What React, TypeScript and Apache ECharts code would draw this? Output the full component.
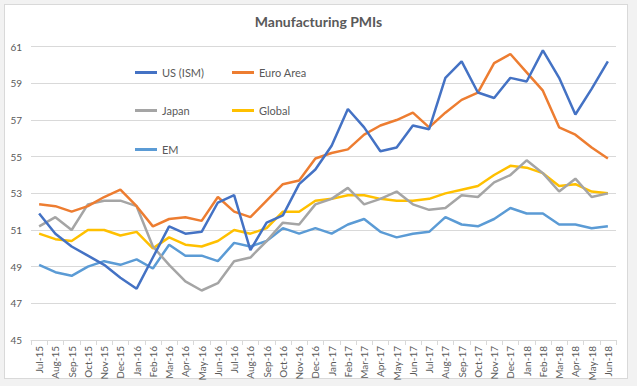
import React, { useEffect, useRef } from "react";
import * as echarts from "echarts";

const categories = [
  "Jul-15", "Aug-15", "Sep-15", "Oct-15", "Nov-15", "Dec-15",
  "Jan-16", "Feb-16", "Mar-16", "Apr-16", "May-16", "Jun-16",
  "Jul-16", "Aug-16", "Sep-16", "Oct-16", "Nov-16", "Dec-16",
  "Jan-17", "Feb-17", "Mar-17", "Apr-17", "May-17", "Jun-17",
  "Jul-17", "Aug-17", "Sep-17", "Oct-17", "Nov-17", "Dec-17",
  "Jan-18", "Feb-18", "Mar-18", "Apr-18", "May-18", "Jun-18",
];

const usIsm = [
  51.9, 50.8, 50.1, 49.6, 49.1, 48.4,
  47.8, 49.5, 51.2, 50.8, 50.9, 52.5,
  52.9, 49.9, 51.4, 51.8, 53.5, 54.3,
  55.6, 57.6, 56.6, 55.3, 55.5, 56.7,
  56.5, 59.3, 60.2, 58.5, 58.2, 59.3,
  59.1, 60.8, 59.3, 57.3, 58.7, 60.2,
];

const euroArea = [
  52.4, 52.3, 52.0, 52.3, 52.8, 53.2,
  52.3, 51.2, 51.6, 51.7, 51.5, 52.8,
  52.0, 51.7, 52.6, 53.5, 53.7, 54.9,
  55.2, 55.4, 56.2, 56.7, 57.0, 57.4,
  56.6, 57.4, 58.1, 58.5, 60.1, 60.6,
  59.6, 58.6, 56.6, 56.2, 55.5, 54.9,
];

const japan = [
  51.2, 51.7, 51.0, 52.4, 52.6, 52.6,
  52.3, 50.1, 49.1, 48.2, 47.7, 48.1,
  49.3, 49.5, 50.4, 51.4, 51.3, 52.4,
  52.7, 53.3, 52.4, 52.7, 53.1, 52.4,
  52.1, 52.2, 52.9, 52.8, 53.6, 54.0,
  54.8, 54.1, 53.1, 53.8, 52.8, 53.0,
];

const globalPmi = [
  50.8, 50.5, 50.4, 51.0, 51.0, 50.7,
  50.9, 50.0, 50.6, 50.2, 50.1, 50.4,
  51.0, 50.8, 51.1, 52.0, 52.0, 52.6,
  52.7, 52.9, 52.9, 52.7, 52.6, 52.6,
  52.7, 53.0, 53.2, 53.4, 54.0, 54.5,
  54.4, 54.1, 53.4, 53.5, 53.1, 53.0,
];

const em = [
  49.1, 48.7, 48.5, 49.0, 49.3, 49.1,
  49.4, 48.9, 50.2, 49.6, 49.6, 49.3,
  50.3, 50.1, 50.4, 51.1, 50.8, 51.1,
  50.8, 51.3, 51.6, 50.9, 50.6, 50.8,
  50.9, 51.7, 51.3, 51.2, 51.6, 52.2,
  51.9, 51.9, 51.3, 51.3, 51.1, 51.2,
];

const seriesNames = ["US (ISM)", "Euro Area", "Japan", "Global", "EM"];
const seriesColors = ["#4472C4", "#ED7D31", "#A5A5A5", "#FFC000", "#5B9BD5"];
const seriesData = [usIsm, euroArea, japan, globalPmi, em];

const yMin = 45;
const yMax = 61;
const yInterval = 2;

const legendPos = [
  { left: 135, top: 67 },
  { left: 232, top: 67 },
  { left: 135, top: 105 },
  { left: 232, top: 105 },
  { left: 135, top: 144 },
];

const FONT = "Lato, 'Open Sans', 'Liberation Sans', sans-serif";

export default function App() {
  const ref = useRef<HTMLDivElement>(null);

  useEffect(() => {
    if (!ref.current) return;
    const chart = echarts.init(ref.current, undefined, { renderer: "svg" });
    chart.setOption({
      animation: false,
      textStyle: { fontFamily: FONT },
      title: {
        text: "Manufacturing PMIs",
        left: "center",
        top: 14,
        padding: 0,
        textStyle: {
          fontFamily: FONT,
          fontSize: 14,
          fontWeight: "bold",
          color: "#595959",
        },
      },
      legend: seriesNames.map((name, i) => ({
        data: [name],
        left: legendPos[i].left,
        top: legendPos[i].top,
        padding: 0,
        icon: "rect",
        itemWidth: 22,
        itemHeight: 3,
        selectedMode: false,
        textStyle: { fontFamily: FONT, fontSize: 11, color: "#595959" },
      })),
      grid: { left: 31, right: 21, top: 46.7, bottom: 46 },
      xAxis: {
        type: "category",
        data: categories,
        boundaryGap: true,
        axisLine: { lineStyle: { color: "#D9D9D9", width: 1 } },
        axisTick: {
          show: true,
          length: 5,
          interval: 0,
          lineStyle: { color: "#D9D9D9" },
        },
        axisLabel: {
          interval: 0,
          rotate: 90,
          margin: 6,
          fontFamily: FONT,
          fontSize: 10,
          color: "#595959",
        },
        splitLine: { show: false },
      },
      yAxis: {
        type: "value",
        min: yMin,
        max: yMax,
        interval: yInterval,
        axisLine: { show: false },
        axisTick: { show: false },
        axisLabel: {
          margin: 9,
          fontFamily: FONT,
          fontSize: 10,
          color: "#595959",
        },
        splitLine: { lineStyle: { color: "#D9D9D9", width: 1 } },
      },
      series: seriesNames.map((name, i) => ({
        name,
        type: "line",
        data: seriesData[i],
        symbol: "none",
        showSymbol: false,
        lineStyle: { color: seriesColors[i], width: 2.5 },
        itemStyle: { color: seriesColors[i] },
        z: 10 - i,
      })),
    });
    return () => chart.dispose();
  }, []);

  return (
    <div
      style={{
        position: "fixed",
        left: 0,
        top: 0,
        width: 637,
        height: 386,
        background: "#F2F2F2",
      }}
    >
      <div
        style={{
          position: "absolute",
          left: 4,
          top: 4,
          width: 622,
          height: 373,
          background: "#FFFFFF",
          border: "1px solid #D9D9D9",
        }}
      />
      <div
        ref={ref}
        style={{ position: "absolute", left: 0, top: 0, width: 637, height: 386 }}
      />
    </div>
  );
}
